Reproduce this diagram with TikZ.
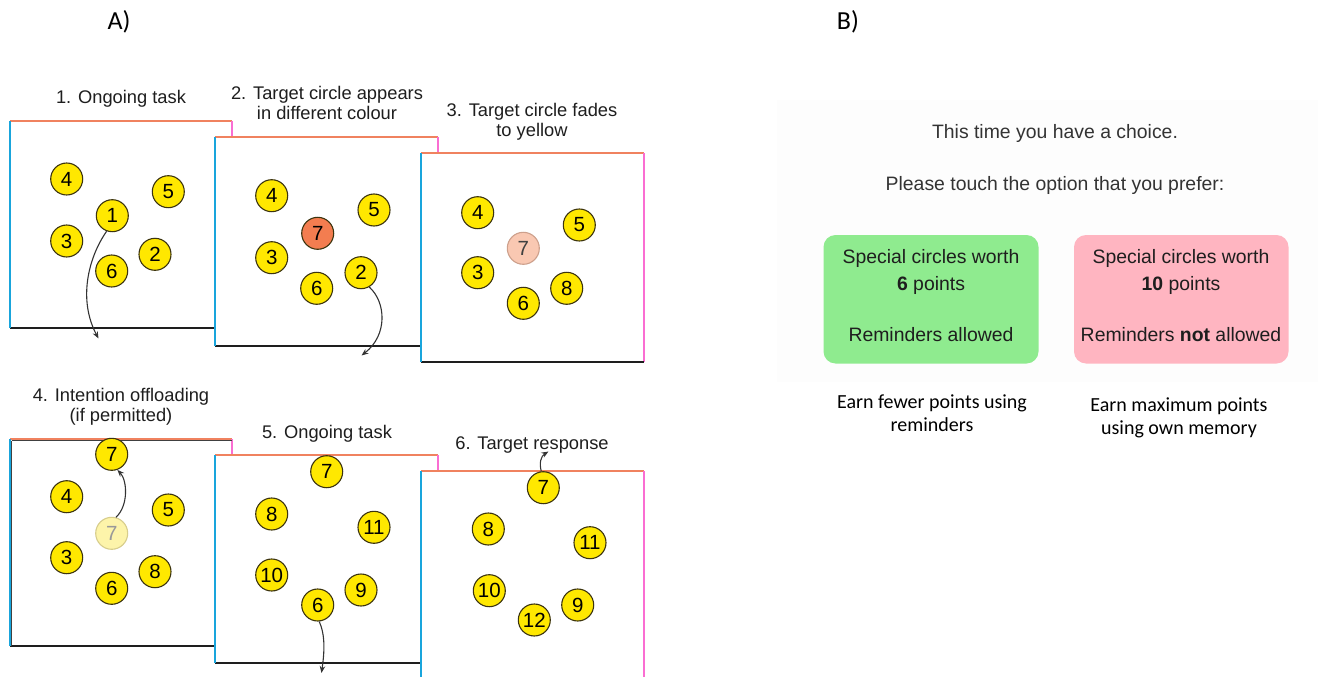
\documentclass[tikz,border=0pt]{standalone}
\usepackage{fontspec}
\setmainfont{Liberation Sans}
\newfontfamily\calibrifont{Carlito}
\usetikzlibrary{arrows.meta}
\definecolor{edgeorange}{RGB}{240,130,95}
\definecolor{edgepink}{RGB}{250,110,210}
\definecolor{edgeblue}{RGB}{25,165,220}
\definecolor{dotyellow}{RGB}{255,232,0}
\definecolor{dotborder}{RGB}{60,52,15}
\definecolor{targetorange}{RGB}{243,125,80}
\definecolor{fadepeach}{RGB}{249,200,178}
\definecolor{fadepeachborder}{RGB}{205,160,140}
\definecolor{fadeyellow}{RGB}{253,244,170}
\definecolor{fadeyellowborder}{RGB}{215,205,140}
\definecolor{boxgreen}{RGB}{143,235,143}
\definecolor{boxpink}{RGB}{255,181,193}
\definecolor{screenbg}{RGB}{253,253,253}
\definecolor{textdark}{RGB}{30,30,30}
\newcommand\drawpanel[4]{%
  \fill[white] (#1,#2) rectangle (#3,#4);
  \draw[edgetop] (#1,#2) -- (#3,#2);
  \draw[edgeright] (#3,#2) -- (#3,#4);
  \draw[edgebottom] (#1,#4) -- (#3,#4);
  \draw[edgeleft] (#1,#2) -- (#1,#4);
}
\begin{document}
\begin{tikzpicture}[x=1pt,y=-1pt,
  edgetop/.style={edgeorange,line width=2.4pt},
  edgeright/.style={edgepink,line width=2.4pt},
  edgeleft/.style={edgeblue,line width=2.4pt},
  edgebottom/.style={textdark,line width=2.4pt},
  dot/.style={circle,draw=dotborder,line width=1.1pt,fill=dotyellow,minimum size=32pt,inner sep=0pt,text=black,font=\fontsize{20.5}{20}\selectfont},
  target/.style={dot,fill=targetorange},
  fadepink/.style={dot,fill=fadepeach,draw=fadepeachborder,text=black!75},
  fadeyel/.style={dot,fill=fadeyellow,draw=fadeyellowborder,text=black!40},
  title/.style={font=\fontsize{18.3}{20}\selectfont,text=textdark,text height=0.72em,text depth=0pt,inner sep=0pt},
  screen/.style={font=\fontsize{19.4}{22}\selectfont,text=black!80,text height=0.72em,text depth=0pt,inner sep=0pt},
  boxtext/.style={font=\fontsize{19.4}{22}\selectfont,text=textdark,text height=0.72em,text depth=0pt,inner sep=0pt},
  caption/.style={font=\calibrifont\fontsize{20}{22}\selectfont,text=black,text height=0.65em,text depth=0pt,inner sep=0pt},
  panellabel/.style={font=\calibrifont\fontsize{26}{28}\selectfont,text=black,text height=0.65em,text depth=0pt,inner sep=0pt},
  choice/.style={rounded corners=12pt,draw=none},
  move/.style={draw=black!80,line width=1.1pt,-{Stealth[length=7pt,width=5.5pt]}}
]
\useasboundingbox (0,0) rectangle (1318,677);
\clip (0,0) rectangle (1318,677);
\fill[white] (0,0) rectangle (1318,677);

% panel labels
\node[panellabel] (labA) at (119,26) {A)};
\node[panellabel] (labB) at (848,26) {B)};

% ---------- top row ----------
\node[title] (t1) at (121,100) {1. Ongoing task};
\node[title] (t2a) at (327,96) {2. Target circle appears};
\node[title] (t2b) at (327,116) {in different colour};
\node[title] (t3a) at (532,113) {3. Target circle fades};
\node[title] (t3b) at (532,133) {to yellow};

\drawpanel{10}{121}{232}{328}
\node[dot] (p1n4) at (66.7,179) {4};
\node[dot] (p1n5) at (168.3,191.7) {5};
\node[dot] (p1n1) at (112.3,215.7) {1};
\node[dot] (p1n3) at (66.7,241) {3};
\node[dot] (p1n2) at (155,254.3) {2};
\node[dot] (p1n6) at (111.7,271) {6};
\coordinate (p1end) at (98.5,338.5);
\draw[move] (p1n1.250) .. controls (88,258) and (78,300) .. (p1end);

\drawpanel{215}{137}{438}{346}
\node[dot] (p2n4) at (271.7,195.7) {4};
\node[dot] (p2n5) at (374,210) {5};
\node[target] (p2n7) at (317.7,233.3) {7};
\node[dot] (p2n3) at (271.7,257.7) {3};
\node[dot] (p2n2) at (361,272.7) {2};
\node[dot] (p2n6) at (316.7,288.3) {6};
\coordinate (p2end) at (361.5,355.5);
\draw[move] (p2n2.300) .. controls (386,302) and (388,335) .. (p2end);

\drawpanel{421}{153}{644}{362}
\node[dot] (p3n4) at (477.7,212.7) {4};
\node[dot] (p3n5) at (579.3,225) {5};
\node[fadepink] (p3n7) at (523.3,248.3) {7};
\node[dot] (p3n3) at (477.7,272.7) {3};
\node[dot] (p3n8) at (566.7,288.3) {8};
\node[dot] (p3n6) at (523.3,303.3) {6};

% ---------- bottom row ----------
\node[title] (t4a) at (121,398) {4. Intention offloading};
\node[title] (t4b) at (121,418) {(if permitted)};
\node[title] (t5) at (327,435) {5. Ongoing task};
\node[title] (t6) at (532,446) {6. Target response};

\drawpanel{10}{439}{232}{646}
\draw[black!75,line width=1.2pt] (11.5,440.8) -- (232,440.8);
\draw[black!75,line width=1.2pt] (11.8,440.8) -- (11.8,646);
\node[dot] (p4n7) at (111.7,454.3) {7};
\node[dot] (p4n4) at (66.7,496.7) {4};
\node[dot] (p4n5) at (168.3,510) {5};
\node[fadeyel] (p4f7) at (111.7,533.3) {7};
\node[dot] (p4n3) at (66.7,557.7) {3};
\node[dot] (p4n8) at (155,571.7) {8};
\node[dot] (p4n6) at (111.7,588.3) {6};
\draw[move] (p4f7.75) .. controls (129,505) and (127,480) .. (p4n7.290);

\drawpanel{215}{455}{438}{663}
\node[dot] (p5n7) at (326.7,471.7) {7};
\node[dot] (p5n8) at (271.7,514) {8};
\node[dot] (p5n11) at (374,527.3) {11};
\node[dot] (p5n10) at (271.7,575) {10};
\node[dot] (p5n9) at (361,590) {9};
\node[dot] (p5n6) at (317.7,605) {6};
\coordinate (p5end) at (321.5,673);
\draw[move] (p5n6.275) .. controls (326,636) and (324,655) .. (p5end);

\drawpanel{421}{471}{644}{679}
\node[dot] (p6n7) at (543.3,487.7) {7};
\node[dot] (p6n8) at (488.3,529) {8};
\node[dot] (p6n11) at (590,542.7) {11};
\node[dot] (p6n10) at (489.3,590.7) {10};
\node[dot] (p6n9) at (577.7,605) {9};
\node[dot] (p6n12) at (534.3,620) {12};
\coordinate (p6end) at (548.5,451.5);
\draw[move] (p6n7.97) .. controls (539,463) and (541,456) .. (p6end);

% ---------- panel B ----------
\fill[screenbg] (777,100) rectangle (1318,382);
\node[screen] (q1) at (1055,135) {This time you have a choice.};
\node[screen] (q2) at (1055,187) {Please touch the option that you prefer:};

\fill[boxgreen,choice] (823.5,235) rectangle (1038.5,363.5);
\node[boxtext] (g1) at (931,260) {Special circles worth};
\node[boxtext] (g2) at (931,287) {\textbf{6} points};
\node[boxtext] (g3) at (931,338) {Reminders allowed};

\fill[boxpink,choice] (1074,235) rectangle (1288.5,363.5);
\node[boxtext] (r1) at (1181,260) {Special circles worth};
\node[boxtext] (r2) at (1181,287) {\textbf{10} points};
\node[boxtext] (r3) at (1181,338) {Reminders \textbf{not} allowed};

\node[caption] (c1) at (932,405) {Earn fewer points using};
\node[caption] (c2) at (932,428) {reminders};
\node[caption] (c3) at (1179,408) {Earn maximum points};
\node[caption] (c4) at (1179,431) {using own memory};
\end{tikzpicture}
\end{document}
